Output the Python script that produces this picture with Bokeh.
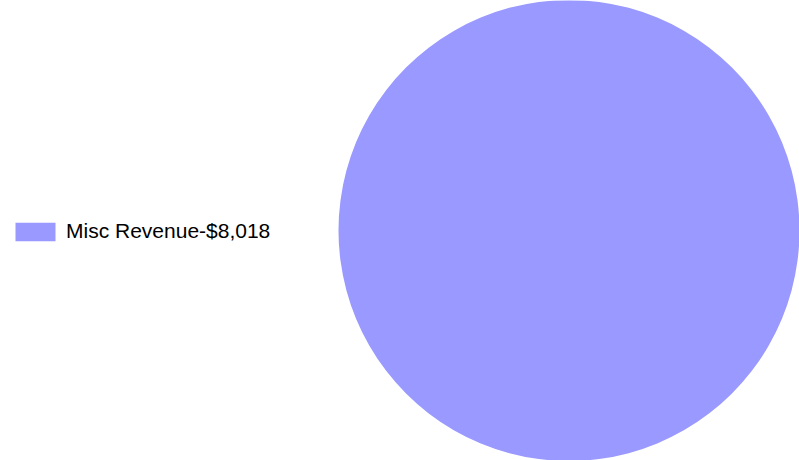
import math
from bokeh.plotting import figure
from bokeh.models import ColumnDataSource, Legend, LegendItem, Range1d
from bokeh.embed import file_html
from bokeh.resources import INLINE

labels = ["Misc Revenue"]
values = [8018]
colors = ["#9999FF"]

total = sum(values)
starts, ends, acc = [], [], 0.0
for v in values:
    sweep = 2 * math.pi * v / total
    if sweep >= 2 * math.pi - 1e-12:
        sweep = 2 * math.pi - 1e-4
    starts.append(math.pi / 2 - 2 * math.pi * acc / total - sweep)
    ends.append(math.pi / 2 - 2 * math.pi * acc / total)
    acc += v
legend_labels = [f"{l}-${v:,}" for l, v in zip(labels, values)]

src = ColumnDataSource(dict(label=legend_labels, value=values, color=colors,
                            start=starts, end=ends))

W, H = 799, 460
p = figure(width=W, height=H, output_backend="svg", toolbar_location=None,
           x_range=Range1d(0, W), y_range=Range1d(0, H), min_border=0,
           match_aspect=False)
p.axis.visible = False
p.xgrid.visible = False
p.ygrid.visible = False
p.outline_line_color = None
p.background_fill_color = "white"
p.border_fill_color = "white"

r = p.wedge(x=568.5, y=230, radius=230.5, start_angle="start", end_angle="end",
            fill_color="color", line_color=None, source=src)

legend = Legend(items=[LegendItem(label=legend_labels[0], renderers=[r], index=0)],
                location=(10, 217), padding=0, margin=0, spacing=0,
                glyph_width=50, glyph_height=23, label_standoff=6,
                label_text_font="Liberation Sans", label_text_font_size="21px",
                label_text_color="#000000", label_height=23,
                border_line_color=None, background_fill_alpha=0)
p.add_layout(legend, "center")

open("out.html", "w").write(file_html(p, INLINE))
